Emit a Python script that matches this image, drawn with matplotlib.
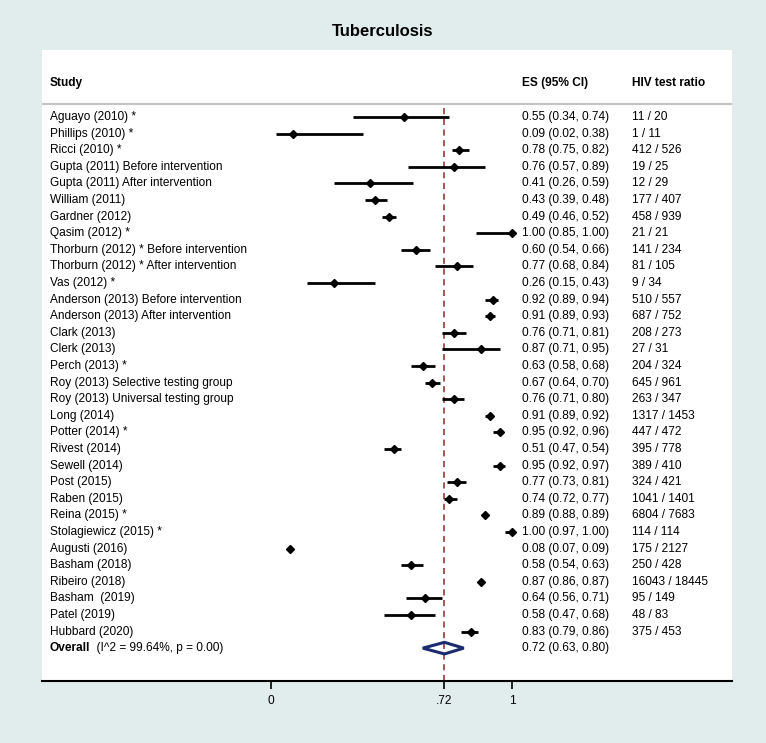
import numpy as np
import matplotlib.pyplot as plt
from matplotlib.patches import Polygon

plt.rcParams['font.family'] = ['Liberation Sans', 'DejaVu Sans']

studies = ["Aguayo (2010) *", "Phillips (2010) *", "Ricci (2010) *",
           "Gupta (2011) Before intervention", "Gupta (2011) After intervention",
           "William (2011)", "Gardner (2012)", "Qasim (2012) *",
           "Thorburn (2012) * Before intervention", "Thorburn (2012) * After intervention",
           "Vas (2012) *", "Anderson (2013) Before intervention",
           "Anderson (2013) After intervention", "Clark (2013)", "Clerk (2013)",
           "Perch (2013) *", "Roy (2013) Selective testing group",
           "Roy (2013) Universal testing group", "Long (2014)", "Potter (2014) *",
           "Rivest (2014)", "Sewell (2014)", "Post (2015)", "Raben (2015)",
           "Reina (2015) *", "Stolagiewicz (2015) *", "Augusti (2016)",
           "Basham (2018)", "Ribeiro (2018)", "Basham  (2019)", "Patel (2019)",
           "Hubbard (2020)"]
es = [0.55, 0.09, 0.78, 0.76, 0.41, 0.43, 0.49, 1.00, 0.60, 0.77, 0.26, 0.92,
      0.91, 0.76, 0.87, 0.63, 0.67, 0.76, 0.91, 0.95, 0.51, 0.95, 0.77, 0.74,
      0.89, 1.00, 0.08, 0.58, 0.87, 0.64, 0.58, 0.83]
lo = [0.34, 0.02, 0.75, 0.57, 0.26, 0.39, 0.46, 0.85, 0.54, 0.68, 0.15, 0.89,
      0.89, 0.71, 0.71, 0.58, 0.64, 0.71, 0.89, 0.92, 0.47, 0.92, 0.73, 0.72,
      0.88, 0.97, 0.07, 0.54, 0.86, 0.56, 0.47, 0.79]
hi = [0.74, 0.38, 0.82, 0.89, 0.59, 0.48, 0.52, 1.00, 0.66, 0.84, 0.43, 0.94,
      0.93, 0.81, 0.95, 0.68, 0.70, 0.80, 0.92, 0.96, 0.54, 0.97, 0.81, 0.77,
      0.89, 1.00, 0.09, 0.63, 0.87, 0.71, 0.68, 0.86]
ratios = ["11 / 20", "1 / 11", "412 / 526", "19 / 25", "12 / 29", "177 / 407",
          "458 / 939", "21 / 21", "141 / 234", "81 / 105", "9 / 34", "510 / 557",
          "687 / 752", "208 / 273", "27 / 31", "204 / 324", "645 / 961",
          "263 / 347", "1317 / 1453", "447 / 472", "395 / 778", "389 / 410",
          "324 / 421", "1041 / 1401", "6804 / 7683", "114 / 114", "175 / 2127",
          "250 / 428", "16043 / 18445", "95 / 149", "48 / 83", "375 / 453"]
overall = (0.72, 0.63, 0.80)
overall_stats = "(I^2 = 99.64%, p = 0.00)"
xticks = [0, 0.72, 1]
xticklabels = ["0", ".72", "1"]

bg = '#e1ecec'
navy = '#1c2b70'
darkred = '#8c2a2a'
fs = 8.6

fig = plt.figure(figsize=(7.66, 7.43), dpi=100, facecolor=bg)
# white plot region: x 42..732 px, y 50..681 px
ax = fig.add_axes([42 / 766, (743 - 681) / 743, (732 - 42) / 766, (681 - 50) / 743])
ax.set_facecolor('white')

ymin, ymax = 33.98, -4.04
ax.set_xlim(-0.950, 1.913)
ax.set_ylim(ymin, ymax)

y = np.arange(len(studies))
ax.hlines(y, lo, hi, color='black', lw=2.0, zorder=3)
ax.plot(es, y, 'D', color='black', ms=4, zorder=4)

# overall diamond
n = len(studies)
ov, ol, oh = overall
diamond = Polygon([[ol, n], [ov, n - 0.35], [oh, n], [ov, n + 0.35]], closed=True,
                  fill=False, edgecolor=navy, lw=2.2, joinstyle='miter', zorder=4)
ax.add_patch(diamond)

ax.axvline(ov, ymin=0, ymax=(ymin + 0.66) / (ymin - ymax), color=darkred,
           lw=1.1, ls=(0, (4, 3)), zorder=2)
ax.axhline(-0.81, color='#c4c4c4', lw=1.5)

x_study, x_es, x_ratio = -0.917, 1.041, 1.498
ax.text(x_study, -2.05, "Study", fontsize=fs, fontweight='bold', va='center')
ax.text(x_es, -2.05, "ES (95% CI)", fontsize=fs, fontweight='bold', va='center')
ax.text(x_ratio, -2.05, "HIV test ratio", fontsize=fs, fontweight='bold', va='center')

for i in range(n):
    ax.text(x_study, i, studies[i], fontsize=fs, va='center')
    ax.text(x_es, i, f"{es[i]:.2f} ({lo[i]:.2f}, {hi[i]:.2f})", fontsize=fs, va='center')
    ax.text(x_ratio, i, ratios[i], fontsize=fs, va='center')

t = ax.text(x_study, n, "Overall", fontsize=fs, fontweight='bold', va='center')
ax.annotate("  " + overall_stats, xycoords=t, xy=(1, 0.5), va='center', fontsize=fs)
ax.text(x_es, n, f"{ov:.2f} ({ol:.2f}, {oh:.2f})", fontsize=fs, va='center')

for s in ['top', 'left', 'right']:
    ax.spines[s].set_visible(False)
ax.spines['bottom'].set_linewidth(1.5)
ax.set_yticks([])
ax.set_xticks(xticks)
ax.set_xticklabels(xticklabels, fontsize=fs)
ax.tick_params(axis='x', length=6, width=1.2, pad=4)

fig.text(0.5, 1 - 32 / 743, "Tuberculosis", ha='center', va='center',
         fontsize=12, fontweight='bold')

fig.savefig("out.png", dpi=100, facecolor=bg)
